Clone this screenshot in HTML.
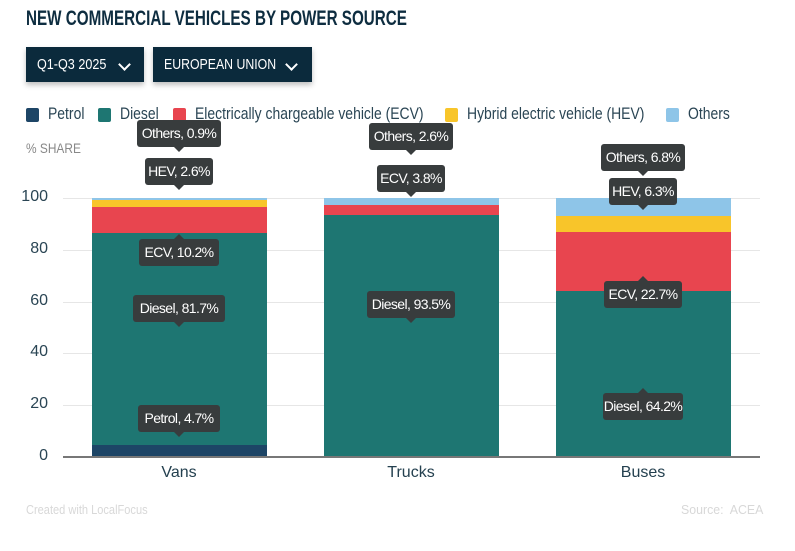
<!DOCTYPE html>
<html><head><meta charset="utf-8"><style>
body{margin:0;width:795px;height:551px;background:#fff;position:relative;overflow:hidden;font-family:"Liberation Sans",sans-serif;color:#24404f}
.a{position:absolute}
.n{display:inline-block;transform:scaleX(.8);transform-origin:left center;white-space:nowrap}
.btn{position:absolute;top:47px;height:35px;background:#0b2a3c;color:#fff;font-size:15px;line-height:35px;box-shadow:0 3px 5px rgba(0,0,0,.25);padding-left:11px;box-sizing:border-box;white-space:nowrap}
.leg{position:absolute;top:104px;font-size:17px;color:#2a4554;transform:scaleX(.82);transform-origin:left center;white-space:nowrap}
.sq{position:absolute;top:108px;width:13px;height:14px;border-radius:2px}
.grid{position:absolute;left:63px;width:697px;height:1px;background:#e6e6e6}
.yl{position:absolute;left:0;width:48px;text-align:right;font-size:16px;color:#2a4554}
.tt{position:absolute;height:27px;line-height:27px;background:#383c3d;color:#fff;font-size:14px;text-align:center;border-radius:3px;white-space:nowrap;letter-spacing:-0.6px}
.tt.d:after{content:"";position:absolute;left:50%;margin-left:-5px;top:27px;border:5px solid transparent;border-top-color:#383c3d}
.tt.u:after{content:"";position:absolute;left:50%;margin-left:-5px;top:-10px;border:5px solid transparent;border-bottom-color:#383c3d}
.seg{position:absolute}
.chev{position:absolute;top:13px;width:7px;height:7px;border-right:2px solid #fff;border-bottom:2px solid #fff;transform:rotate(45deg)}
</style></head><body>
<div class="a" style="left:26px;top:7px;font-size:21px;font-weight:bold;color:#0e2d40;transform:scaleX(.725);transform-origin:left center;white-space:nowrap">NEW COMMERCIAL VEHICLES BY POWER SOURCE</div>
<div class="btn" style="left:26px;width:118px"><span class="n" style="transform:scaleX(.84)">Q1-Q3 2025</span><div class="chev" style="left:94px"></div></div>
<div class="btn" style="left:153px;width:159px"><span class="n" style="transform:scaleX(.82)">EUROPEAN UNION</span><div class="chev" style="left:134px"></div></div>

<div class="sq" style="left:26px;background:#1d4566"></div><div class="leg" style="left:48px">Petrol</div>
<div class="sq" style="left:98px;background:#1e7672"></div><div class="leg" style="left:120px">Diesel</div>
<div class="sq" style="left:173px;background:#e8454f"></div><div class="leg" style="left:195px">Electrically chargeable vehicle (ECV)</div>
<div class="sq" style="left:445px;background:#f8c52a"></div><div class="leg" style="left:467px">Hybrid electric vehicle (HEV)</div>
<div class="sq" style="left:666px;background:#8ec5e8"></div><div class="leg" style="left:688px">Others</div>

<div class="a" style="left:26px;top:140px;font-size:14px;color:#888;transform:scaleX(.85);transform-origin:left center">% SHARE</div>

<div class="grid" style="top:198px"></div><div class="grid" style="top:250px"></div><div class="grid" style="top:302px"></div><div class="grid" style="top:353px"></div><div class="grid" style="top:405px"></div>
<div class="yl" style="top:188px">100</div><div class="yl" style="top:240px">80</div><div class="yl" style="top:292px">60</div><div class="yl" style="top:343px">40</div><div class="yl" style="top:395px">20</div><div class="yl" style="top:447px">0</div>

<div class="seg" style="left:92px;width:175px;top:198px;height:2px;background:#8ec5e8"></div>
<div class="seg" style="left:92px;width:175px;top:200px;height:7px;background:#f8c52a"></div>
<div class="seg" style="left:92px;width:175px;top:207px;height:26px;background:#e8454f"></div>
<div class="seg" style="left:92px;width:175px;top:233px;height:212px;background:#1e7672"></div>
<div class="seg" style="left:92px;width:175px;top:445px;height:12px;background:#1d4566"></div>
<div class="seg" style="left:324px;width:175px;top:198px;height:7px;background:#8ec5e8"></div>
<div class="seg" style="left:324px;width:175px;top:205px;height:10px;background:#e8454f"></div>
<div class="seg" style="left:324px;width:175px;top:215px;height:242px;background:#1e7672"></div>
<div class="seg" style="left:556px;width:175px;top:198px;height:18px;background:#8ec5e8"></div>
<div class="seg" style="left:556px;width:175px;top:216px;height:16px;background:#f8c52a"></div>
<div class="seg" style="left:556px;width:175px;top:232px;height:59px;background:#e8454f"></div>
<div class="seg" style="left:556px;width:175px;top:291px;height:166px;background:#1e7672"></div>

<div class="a" style="left:63px;top:456px;width:697px;height:2px;background:#777"></div>

<div class="tt d" style="left:137px;top:120px;width:84px">Others, 0.9%</div>
<div class="tt d" style="left:145px;top:158px;width:68px">HEV, 2.6%</div>
<div class="tt u" style="left:139px;top:239px;width:80px">ECV, 10.2%</div>
<div class="tt d" style="left:133px;top:295px;width:92px">Diesel, 81.7%</div>
<div class="tt d" style="left:138px;top:405px;width:82px">Petrol, 4.7%</div>

<div class="tt d" style="left:369px;top:123px;width:84px">Others, 2.6%</div>
<div class="tt d" style="left:377px;top:165px;width:68px">ECV, 3.8%</div>
<div class="tt d" style="left:367px;top:291px;width:88px">Diesel, 93.5%</div>

<div class="tt d" style="left:601px;top:144px;width:84px">Others, 6.8%</div>
<div class="tt d" style="left:609px;top:178px;width:68px">HEV, 6.3%</div>
<div class="tt u" style="left:604px;top:281px;width:78px">ECV, 22.7%</div>
<div class="tt u" style="left:603px;top:393px;width:80px">Diesel, 64.2%</div>

<div class="a" style="left:0;top:464px;width:358px;text-align:center;font-size:16px">Vans</div>
<div class="a" style="left:232px;top:464px;width:358px;text-align:center;font-size:16px">Trucks</div>
<div class="a" style="left:464px;top:464px;width:358px;text-align:center;font-size:16px">Buses</div>

<div class="a" style="left:26px;top:502px;font-size:13px;color:#d8d8d8;transform:scaleX(.85);transform-origin:left center;white-space:nowrap">Created with LocalFocus</div>
<div class="a" style="left:681px;top:502px;font-size:13px;color:#d8d8d8;transform:scaleX(.95);transform-origin:left center;white-space:nowrap">Source:&nbsp; ACEA</div>
</body></html>
